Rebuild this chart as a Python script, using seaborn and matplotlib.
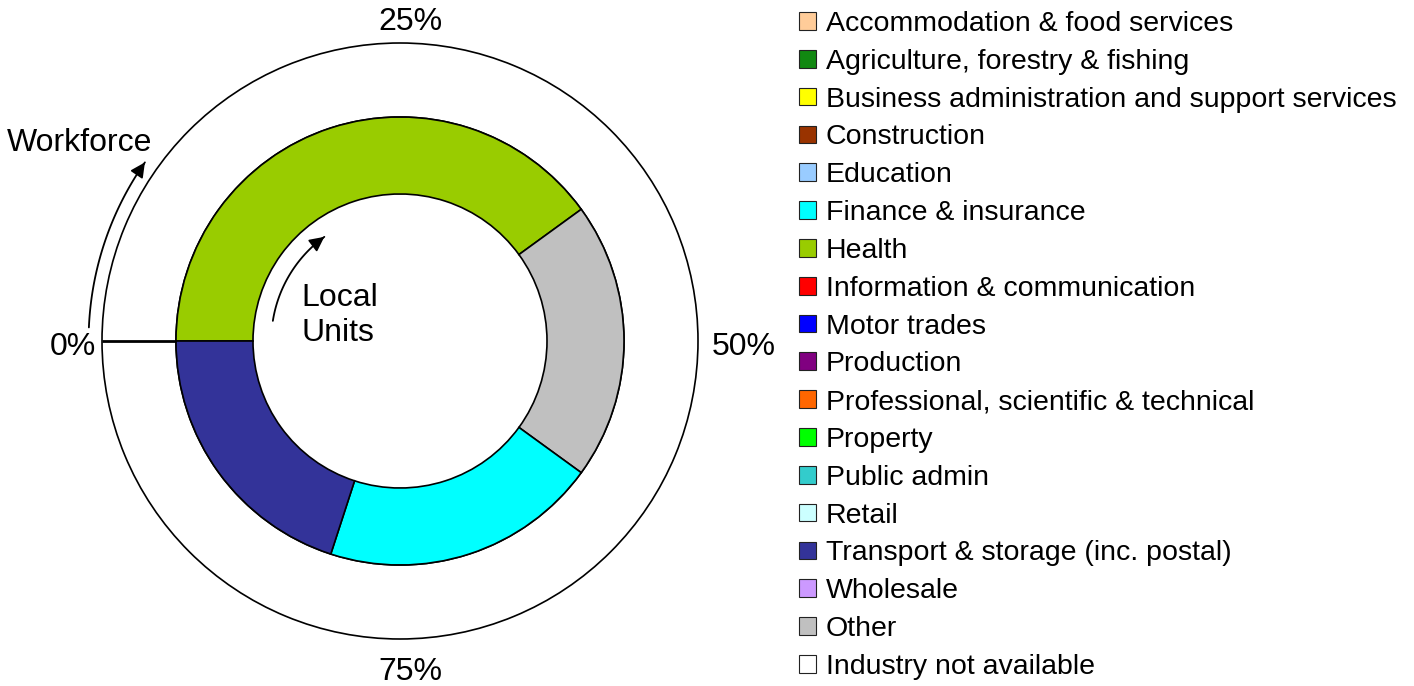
import numpy as np
import matplotlib
matplotlib.use("Agg")
import matplotlib.pyplot as plt
from matplotlib.patches import Patch
import seaborn as sns

# legend categories and their colours
industries = ["Accommodation & food services", "Agriculture, forestry & fishing",
              "Business administration and support services", "Construction",
              "Education", "Finance & insurance", "Health",
              "Information & communication", "Motor trades", "Production",
              "Professional, scientific & technical", "Property", "Public admin",
              "Retail", "Transport & storage (inc. postal)", "Wholesale", "Other",
              "Industry not available"]
industry_colors = ["#FFCC99", "#118811", "#FFFF00", "#993300", "#99CCFF", "#00FFFF",
                   "#99CC00", "#FF0000", "#0000FF", "#800080", "#FF6600", "#00FF00",
                   "#33CCCC", "#CCFFFF", "#333399", "#CC99FF", "#C0C0C0", "#FFFFFF"]

# outer ring: workforce (share %)
workforce_labels = ["Industry not available"]
workforce_values = [100]

# inner ring: local units (share %), clockwise from 0%
local_labels = ["Health", "Other", "Finance & insurance", "Transport & storage (inc. postal)"]
local_values = [40, 20, 20, 20]

ring_ticks = ["0%", "25%", "50%", "75%"]

sns.set_style("white")
plt.rcParams['font.family'] = ['Liberation Sans', 'DejaVu Sans']
plt.rcParams['text.color'] = 'black'

color_of = dict(zip(industries, industry_colors))

fig = plt.figure(figsize=(14.14, 6.86), dpi=100)
W, H = 1414, 686
cx, cy, R = 400, 341, 298
lim = 1.02
ax = fig.add_axes([(cx - R * lim) / W, (H - cy - R * lim) / H, 2 * R * lim / W, 2 * R * lim / H])

r_mid = 224 / 298   # boundary between the two rings
ring_w = 77 / 298   # width of inner ring
edge = dict(edgecolor="black", linewidth=1.2)
ax.pie(workforce_values, colors=[color_of[l] for l in workforce_labels], radius=1.0,
       startangle=180, counterclock=False, wedgeprops=dict(width=1 - r_mid, **edge))
ax.pie(local_values, colors=[color_of[l] for l in local_labels], radius=r_mid,
       startangle=180, counterclock=False, wedgeprops=dict(width=ring_w, **edge))
# start edge of the full outer wedge (matplotlib omits it for a 360 degree wedge)
ax.plot([-1.0, -r_mid], [0, 0], color="black", lw=2.0, solid_capstyle="butt")
ax.set_xlim(-lim, lim)
ax.set_ylim(-lim, lim)
ax.set_aspect("equal")

fs = 23
ax.text(-1.02, -0.02, ring_ticks[0], ha="right", va="center", fontsize=fs)
ax.text(0.034, 1.07, ring_ticks[1], ha="center", va="center", fontsize=fs)
ax.text(1.045, -0.02, ring_ticks[2], ha="left", va="center", fontsize=fs)
ax.text(0.034, -1.11, ring_ticks[3], ha="center", va="center", fontsize=fs)


def curved_arrow(r, a0, a1):
    t = np.radians(np.linspace(a0, a1, 60))
    ax.plot(r * np.cos(t), r * np.sin(t), color="black", lw=1.3, clip_on=False)
    ax.annotate("", xy=(r * np.cos(t[-1]), r * np.sin(t[-1])),
                xytext=(r * np.cos(t[-4]), r * np.sin(t[-4])),
                arrowprops=dict(arrowstyle="-|>", color="black", lw=1.3,
                                mutation_scale=22, shrinkA=0, shrinkB=0),
                annotation_clip=False)


curved_arrow(1.045, 177.5, 145)
ax.text(-1.075, 0.665, "Workforce", ha="center", va="center", fontsize=fs)
curved_arrow(0.432, 171, 126)
ax.text(-0.33, 0.087, "Local\nUnits", ha="left", va="center", fontsize=fs,
        linespacing=1.22)

handles = [Patch(facecolor=c, edgecolor="#222222", linewidth=0.8) for c in industry_colors]
fig.legend(handles, industries, loc="upper left", bbox_to_anchor=(799 / W, 1 - 11 / H),
           frameon=False, fontsize=20.5, handlelength=0.58, handleheight=0.58,
           handletextpad=0.36, labelspacing=0.415, borderpad=0, borderaxespad=0)

fig.savefig("out.png", dpi=100, facecolor="white")
